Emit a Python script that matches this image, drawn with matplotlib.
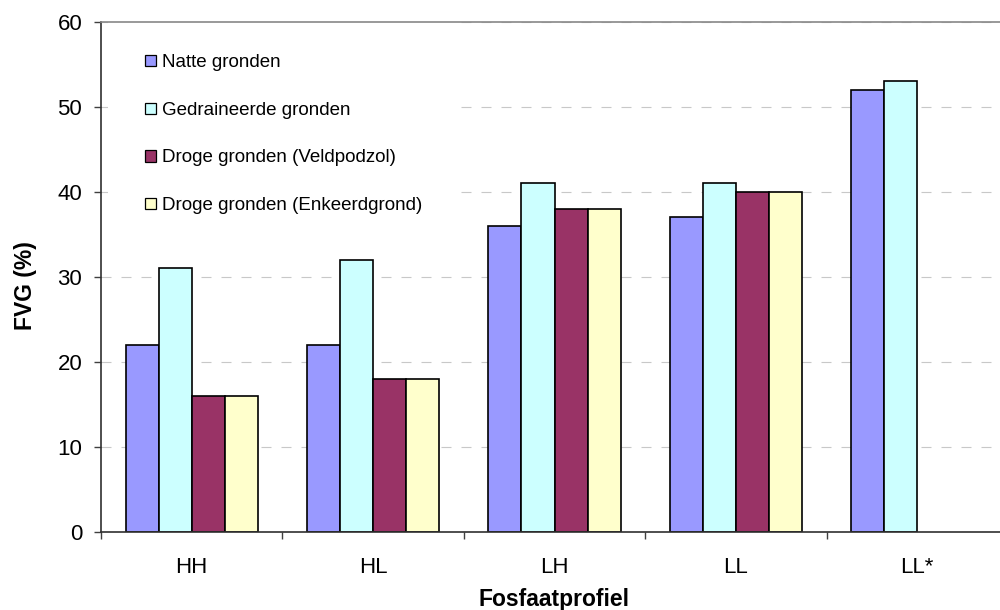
import matplotlib.pyplot as plt
import numpy as np

plt.rcParams['font.family'] = ['Liberation Sans', 'DejaVu Sans']

profielen = ['HH', 'HL', 'LH', 'LL', 'LL*']
natte = [22, 22, 36, 37, 52]
gedraineerd = [31, 32, 41, 41, 53]
veldpodzol = [16, 18, 38, 40, np.nan]
enkeerdgrond = [16, 18, 38, 40, np.nan]

reeksen = [natte, gedraineerd, veldpodzol, enkeerdgrond]
namen = ['Natte gronden', 'Gedraineerde gronden',
         'Droge gronden (Veldpodzol)', 'Droge gronden (Enkeerdgrond)']
kleuren = ['#9999ff', '#ccffff', '#993366', '#ffffcc']

fig = plt.figure(figsize=(10, 6.1), dpi=100)
ax = fig.add_axes([0.101, 0.128, 0.907, 0.836])

x = np.arange(len(profielen))
breedte = 0.182
for i, (waarden, naam, kleur) in enumerate(zip(reeksen, namen, kleuren)):
    ax.bar(x + (i - 1.5) * breedte, waarden, breedte, color=kleur,
           edgecolor='black', linewidth=1.2, label=naam, zorder=2)

ax.set_xlim(-0.5, len(profielen) - 0.5)
ax.set_ylim(0, 60)
ax.set_yticks(range(0, 61, 10))
ax.yaxis.grid(True, color='#c8c8c8', linewidth=0.8, linestyle=(0, (9, 9)), zorder=0)
ax.set_axisbelow(True)

# categorie-grenzen als tickmarks, labels in het midden
ax.set_xticks(np.arange(-0.5, len(profielen), 1.0))
ax.set_xticklabels([])
ax.set_xticks(x, minor=True)
ax.set_xticklabels(profielen, minor=True)
ax.tick_params(axis='x', which='major', length=5, width=1, color='#404040')
ax.tick_params(axis='x', which='minor', length=0, pad=18, labelsize=16)
ax.tick_params(axis='y', length=5, width=1, color='#404040', pad=8.5, labelsize=16)

for s in ['left', 'bottom']:
    ax.spines[s].set_color('#303030')
    ax.spines[s].set_linewidth(1.2)
ax.spines['top'].set_color('#888888')
ax.spines['top'].set_linewidth(1.2)
ax.spines['right'].set_visible(False)

ax.set_ylabel('FVG (%)', fontsize=16.5, fontweight='bold')
ax.yaxis.set_label_coords(-0.071, 0.484)
ax.set_xlabel('Fosfaatprofiel', fontsize=16.5, fontweight='bold')
ax.xaxis.set_label_coords(0.5, -0.11)

leg = ax.legend(loc='upper left', bbox_to_anchor=(0.0077, 1.01), fontsize=13.5,
                frameon=True, facecolor='white', edgecolor='none', framealpha=1,
                fancybox=False, borderpad=2.0, handlelength=0.55, handleheight=0.55,
                handletextpad=0.35, labelspacing=1.63, borderaxespad=0)
for h in leg.legend_handles:
    h.set_linewidth(0.9)
leg.set_zorder(2.2)

fig.savefig('out.png', dpi=100)
